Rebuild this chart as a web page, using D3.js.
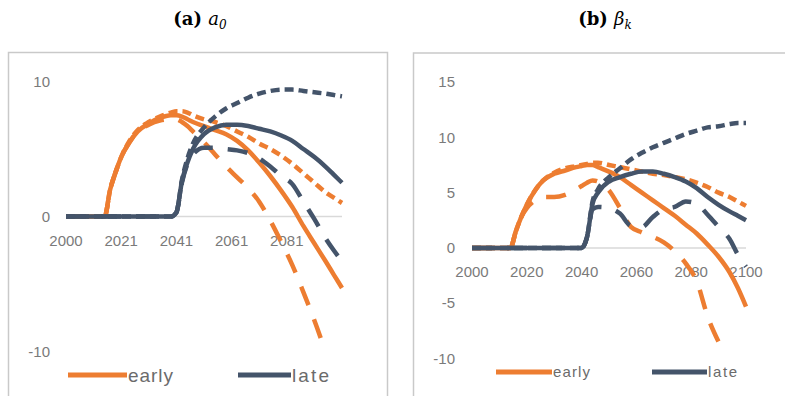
<!DOCTYPE html>
<html>
<head>
<meta charset="utf-8">
<script src="https://cdn.jsdelivr.net/npm/d3@7"></script>
<style>
  body { margin: 0; background: #fff; }
  text { font-family: 'Liberation Sans', Arial, sans-serif; }
</style>
</head>
<body>
<script>
// years shared by every series (x categories)
const years = [2000, 2010, 2014, 2016, 2018, 2020, 2023, 2026, 2030, 2034, 2038, 2040, 2042, 2044, 2046,
  2050, 2054, 2058, 2062, 2066, 2070, 2074, 2078, 2082, 2086, 2090, 2094, 2097, 2100]

// panel (a) a0
const earlySolidA = [0, 0, 0, 2.0, 3.3, 4.4, 5.5, 6.3, 6.9, 7.3, 7.5, 7.5, 7.4, 7.2, 7.0,
  6.7, 6.4, 6.1, 5.6, 4.9, 4.0, 3.0, 1.9, 0.7, -0.7, -2.0, -3.3, -4.3, -5.3]
const earlyDashA = [0, 0, 0, 2.0, 3.3, 4.4, 5.6, 6.4, 7.0, 7.4, 7.7, 7.8, 7.8, 7.7, 7.5,
  7.2, 7.0, 6.7, 6.3, 5.9, 5.4, 5.0, 4.5, 3.9, 3.2, 2.5, 1.8, 1.4, 1.0]
const earlyLongA = [0, 0, 0, 2.0, 3.3, 4.4, 5.5, 6.3, 6.8, 7.1, 7.2, 7.2, 7.0, 6.7, 6.3,
  5.5, 4.6, 3.7, 2.9, 2.1, 1.1, -0.3, -1.9, -3.6, -5.6, -7.7, -10.0, null, null]
const lateSolidA = [0, 0, 0, 0, 0, 0, 0, 0, 0, 0, 0, 0.3, 2.6, 4.0, 5.0,
  6.1, 6.6, 6.8, 6.8, 6.7, 6.5, 6.3, 6.0, 5.6, 5.0, 4.4, 3.7, 3.1, 2.5]
const lateDashA = [0, 0, 0, 0, 0, 0, 0, 0, 0, 0, 0, 0.3, 2.7, 4.3, 5.4,
  6.6, 7.4, 8.0, 8.4, 8.8, 9.1, 9.3, 9.4, 9.4, 9.3, 9.2, 9.1, 9.0, 8.9]
const lateLongA = [0, 0, 0, 0, 0, 0, 0, 0, 0, 0, 0, 0.3, 2.5, 3.9, 4.6,
  5.1, 5.1, 5.0, 4.9, 4.7, 4.3, 3.7, 3.0, 2.4, 1.1, -0.2, -1.6, -2.5, -3.3]
const xTicksA = [2000, 2020, 2040, 2060, 2080]
const xLabelsA = ['2000', '2021', '2041', '2061', '2081']
const yTicksA = [-10, 0, 10]

// panel (b) beta_k
const earlySolidB = [0, 0, 0, 1.5, 2.8, 3.9, 5.2, 6.1, 6.7, 7.0, 7.3, 7.4, 7.5, 7.5, 7.3,
  6.9, 6.4, 5.7, 5.0, 4.3, 3.6, 2.9, 2.1, 1.3, 0.3, -0.8, -2.2, -3.6, -5.3]
const earlyDashB = [0, 0, 0, 1.5, 2.8, 3.9, 5.2, 6.1, 6.8, 7.2, 7.4, 7.5, 7.6, 7.7, 7.7,
  7.5, 7.3, 7.1, 6.9, 6.7, 6.6, 6.4, 6.2, 5.9, 5.5, 5.0, 4.6, 4.2, 3.8]
const earlyLongB = [0, 0, 0, 1.5, 2.8, 3.6, 4.3, 4.6, 4.6, 4.8, 5.3, 5.6, 5.9, 6.1, 6.0,
  5.2, 3.6, 1.9, 1.4, 1.0, 0.5, -0.3, -1.4, -3.0, -6.2, -8.5, null, null, null]
const lateSolidB = [0, 0, 0, 0, 0, 0, 0, 0, 0, 0, 0, 0, 1.0, 4.0, 5.0,
  6.0, 6.4, 6.7, 6.9, 6.9, 6.7, 6.4, 6.0, 5.4, 4.6, 3.9, 3.3, 2.9, 2.5]
const lateDashB = [0, 0, 0, 0, 0, 0, 0, 0, 0, 0, 0, 0, 1.0, 4.2, 5.3,
  6.4, 7.2, 8.0, 8.6, 9.1, 9.5, 9.9, 10.3, 10.6, 10.9, 11.0, 11.2, 11.3, 11.3]
const lateLongB = [0, 0, 0, 0, 0, 0, 0, 0, 0, 0, 0, 0, 1.0, 3.5, 3.7,
  3.6, 3.1, 2.0, 1.9, 2.8, 3.5, 3.7, 4.2, 4.0, 3.0, 1.9, 0.8, -0.6, -1.7]
const xTicksB = [2000, 2020, 2040, 2060, 2080, 2100]
const xLabelsB = ['2000', '2020', '2040', '2060', '2080', '2100']
const yTicksB = [-10, -5, 0, 5, 10, 15]

const orange = '#ED7D31'
const navy = '#44546A'
const dashes = { solid: null, dash: '9,5', long: '20,15' }

const svg = d3.select('body').append('svg')
  .attr('width', 785)
  .attr('height', 396)

// titles
function title(x, tag, sym, sub) {
  const t = svg.append('text')
    .attr('x', x).attr('y', 25)
    .attr('text-anchor', 'middle')
    .style('font-family', "'DejaVu Serif', serif")
    .style('font-size', '18px')
    .attr('fill', '#000')
  t.append('tspan').style('font-weight', 'bold').text(tag + ' ')
  t.append('tspan').style('font-style', 'italic').text(sym)
  t.append('tspan').style('font-style', 'italic').style('font-size', '12px')
    .attr('dy', 4).text(sub)
}
title(200, '(a)', 'a', '0')
title(605, '(b)', 'β', 'k')

function panel(cfg) {
  // outer frame (chart area border)
  svg.append('rect')
    .attr('x', cfg.frame[0]).attr('y', cfg.frame[1])
    .attr('width', cfg.frame[2]).attr('height', cfg.frame[3])
    .attr('fill', 'none')
    .attr('stroke', '#c9c9c9')
    .attr('stroke-width', 1.5)

  const x = d3.scaleLinear().domain([2000, 2100]).range(cfg.xr)
  const y = d3.scaleLinear().domain(cfg.yd).range(cfg.yr)

  // zero line
  svg.append('line')
    .attr('x1', x(2000)).attr('x2', x(2100))
    .attr('y1', y(0)).attr('y2', y(0))
    .attr('stroke', '#d9d9d9').attr('stroke-width', 1.5)

  // y labels
  svg.selectAll(null).data(cfg.yTicks).enter().append('text')
    .attr('x', cfg.yLabelX).attr('y', d => y(d))
    .attr('dy', '0.35em')
    .attr('text-anchor', 'end')
    .attr('fill', '#7a7a7a')
    .style('font-size', '15px')
    .text(d => d)

  // x labels
  svg.selectAll(null).data(cfg.xTicks).enter().append('text')
    .attr('x', d => x(d)).attr('y', y(0) + 24)
    .attr('dy', '0.35em')
    .attr('text-anchor', 'middle')
    .attr('fill', '#7a7a7a')
    .style('font-size', '15px')
    .text((d, i) => cfg.xLabels[i])

  const clipId = 'clip' + cfg.id
  svg.append('clipPath').attr('id', clipId)
    .append('rect')
    .attr('x', cfg.xr[0] - 5).attr('y', y(cfg.yd[1]) - 5)
    .attr('width', cfg.xr[1] - cfg.xr[0] + 10)
    .attr('height', y(cfg.yd[0]) - y(cfg.yd[1]) + 5)

  const line = d3.line()
    .defined(d => d[1] !== null)
    .x(d => x(d[0]))
    .y(d => y(d[1]))
    .curve(d3.curveMonotoneX)

  const g = svg.append('g').attr('clip-path', `url(#${clipId})`)
  cfg.series.forEach(s => {
    g.append('path')
      .datum(years.map((yr, i) => [yr, s.values[i]]))
      .attr('d', line)
      .attr('fill', 'none')
      .attr('stroke', s.color)
      .attr('stroke-width', 4.5)
      .attr('stroke-dasharray', dashes[s.style])
  })

  // legend
  const lg = cfg.legend
  ;[[orange, 'early', lg.early], [navy, 'late', lg.late]].forEach(([c, name, pos]) => {
    svg.append('line')
      .attr('x1', pos[0]).attr('x2', pos[1])
      .attr('y1', lg.y).attr('y2', lg.y)
      .attr('stroke', c).attr('stroke-width', 5)
    svg.append('text')
      .attr('x', pos[1] + 1).attr('y', lg.y)
      .attr('dy', '0.35em')
      .attr('fill', '#6b6b6b')
      .style('font-size', lg.size)
      .attr('textLength', pos[2])
      .attr('lengthAdjust', 'spacing')
      .text(name)
  })
}

panel({
  id: 'a',
  frame: [8.5, 52.5, 379, 360],
  xr: [66, 342],
  yd: [-10, 10],
  yr: [351.5, 81.5],
  yLabelX: 50,
  xTicks: xTicksA,
  xLabels: xLabelsA,
  yTicks: yTicksA,
  series: [
    { values: earlySolidA, color: orange, style: 'solid' },
    { values: earlyDashA, color: orange, style: 'dash' },
    { values: earlyLongA, color: orange, style: 'long' },
    { values: lateSolidA, color: navy, style: 'solid' },
    { values: lateDashA, color: navy, style: 'dash' },
    { values: lateLongA, color: navy, style: 'long' }
  ],
  legend: { y: 375, size: '19px', early: [68, 127, 45], late: [238, 291, 37] }
})

panel({
  id: 'b',
  frame: [413.5, 53, 380, 360],
  xr: [472, 746],
  yd: [-10, 15],
  yr: [358.5, 82],
  yLabelX: 455,
  xTicks: xTicksB,
  xLabels: xLabelsB,
  yTicks: yTicksB,
  series: [
    { values: earlySolidB, color: orange, style: 'solid' },
    { values: earlyDashB, color: orange, style: 'dash' },
    { values: earlyLongB, color: orange, style: 'long' },
    { values: lateSolidB, color: navy, style: 'solid' },
    { values: lateDashB, color: navy, style: 'dash' },
    { values: lateLongB, color: navy, style: 'long' }
  ],
  legend: { y: 372, size: '15px', early: [496, 552, 37], late: [652, 707, 29] }
})
</script>
</body>
</html>
